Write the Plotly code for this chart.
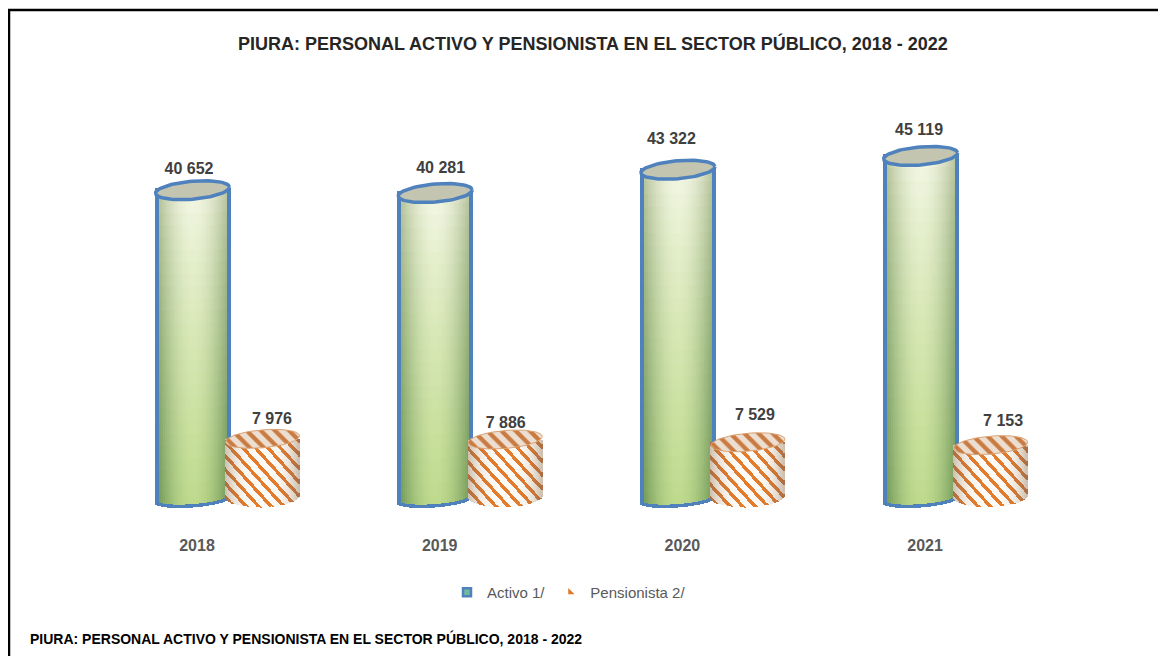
import math
import plotly.graph_objects as go

YEARS = ["2018", "2019", "2020", "2021"]
ACTIVO = [40652, 40281, 43322, 45119]
PENSIONISTA = [7976, 7886, 7529, 7153]
SERIES_NAMES = ["Activo 1/", "Pensionista 2/"]
TITLE = "PIURA: PERSONAL ACTIVO Y PENSIONISTA EN EL SECTOR PÚBLICO, 2018 - 2022"
FOOTER = "PIURA: PERSONAL ACTIVO Y PENSIONISTA EN EL SECTOR PÚBLICO, 2018 - 2022"

PAGE_W, PAGE_H = 1166, 656
BODY = 8
W, H = PAGE_W - BODY, PAGE_H - BODY
PX_PER_UNIT = 0.00767
Y0_PX = 500
AXIS_PX = 530
TICK_X = [197 + 242.7 * i for i in range(4)]
ACT_X = [192.5 + 242.7 * i for i in range(4)]
PEN_X = [262.5 + 242.7 * i for i in range(4)]
BLUE = "#4f81bd"
ORANGE = "#e0782a"
FONT = "Liberation Sans, Arial, sans-serif"


def px(n):
    return n / PX_PER_UNIT


def lerp(a, b, t):
    return a + (b - a) * t


def mix(c1, c2, t):
    return tuple(lerp(a, b, t) for a, b in zip(c1, c2))


def rgb(c):
    return "rgb(%d,%d,%d)" % tuple(round(v) for v in c)


def ppx(x):
    return (x - BODY) / W


def ppy(y):
    return (AXIS_PX - y) / (AXIS_PX - BODY)


def ellipse(cx, val, hw, hh, tilt, n=72):
    xs, ys = [], []
    for i in range(n + 1):
        a = 2 * math.pi * i / n
        u = math.cos(a)
        xs.append(cx + hw * u)
        ys.append(val + px(hh * math.sin(a) + tilt * u))
    return xs, ys


fig = go.Figure()
STRIP = 2
HW_A, HW_P = 38, 37

for cx, val in zip(ACT_X, ACTIVO):
    xs, bases, heights, colors = [], [], [], []
    n = int(2 * HW_A / STRIP)
    rows = 26
    for k in range(n):
        x = cx - HW_A + STRIP * (k + 0.5)
        u = (x - cx) / HW_A
        circ = math.sqrt(max(0, 1 - u * u))
        bottom = -px(7.5 * circ - 3 * u)
        top = val
        edge = abs(u) ** 1.9
        is_edge = k < 2 or k >= n - 2
        for r in range(rows):
            t0, t1 = r / rows, (r + 1) / rows
            b = lerp(bottom, top, t0)
            h = (top - bottom) / rows
            xs.append(x)
            bases.append(b)
            heights.append(h)
            tt = 1 - (t0 + t1) / 2
            centre = mix((246, 248, 232), (190, 218, 140), tt ** 0.8)
            side = mix((176, 188, 146), (98, 140, 78), tt ** 0.7)
            c = mix(centre, side, edge)
            colors.append(BLUE if is_edge else rgb(c))
        xs.append(x)
        bases.append(bottom)
        heights.append(px(3.5))
        colors.append(BLUE)
    fig.add_trace(go.Bar(x=xs, y=heights, base=bases, width=STRIP,
                         marker=dict(color=colors, line=dict(width=0)),
                         showlegend=False, hoverinfo="skip"))

# Pensionista bodies: one-pixel columns, each with a pale base and orange diagonal stripe runs.
STRIPE_PERIOD = 12.5
STRIPE_THICK = 4.6
STRIPE_SLOPE = 1.1
for cx, val in zip(PEN_X, PENSIONISTA):
    xs, bases, heights, colors = [], [], [], []
    n = int(2 * HW_P)
    for k in range(n):
        x = cx - HW_P + k + 0.5
        u = (x - cx) / HW_P
        circ = math.sqrt(max(0, 1 - u * u))
        bottom = px(4) - px(11 * circ - 1 * u)
        shade = abs(u) ** 3
        xs.append(x)
        bases.append(bottom)
        heights.append(val - bottom)
        colors.append(rgb(mix((253, 251, 247), (205, 190, 172), shade)))
        stripe = rgb(mix((228, 124, 44), (170, 110, 70), shade))
        # distance below the top of the column, measured in pixels
        col_h = (val - bottom) * PX_PER_UNIT
        phase = (x % STRIPE_PERIOD) * STRIPE_SLOPE
        period_y = STRIPE_PERIOD * STRIPE_SLOPE
        thick_y = STRIPE_THICK * STRIPE_SLOPE
        y_px = -period_y
        while y_px < col_h + period_y:
            a = y_px + phase
            b = a + thick_y
            a2, b2 = max(a, 0), min(b, col_h)
            if b2 > a2:
                xs.append(x)
                bases.append(val - px(b2))
                heights.append(px(b2 - a2))
                colors.append(stripe)
            y_px += period_y
    fig.add_trace(go.Bar(x=xs, y=heights, base=bases, width=1,
                         marker=dict(color=colors, line=dict(width=0)),
                         showlegend=False, hoverinfo="skip"))

for cx, val in zip(ACT_X, ACTIVO):
    ex, ey = ellipse(cx, val - px(2), HW_A - 1, 9, 3)
    fig.add_trace(go.Scatter(x=ex, y=ey, mode="lines", fill="toself",
                             fillcolor="#c3c5b0", line=dict(color=BLUE, width=3.5),
                             showlegend=False, hoverinfo="skip"))

for cx, val in zip(PEN_X, PENSIONISTA):
    ex, ey = ellipse(cx, val, HW_P, 9, 3)
    fig.add_trace(go.Scatter(x=ex, y=ey, mode="lines", fill="toself",
                             fillcolor="#e8dccf", line=dict(color="#dba273", width=1),
                             fillpattern=dict(shape="\\", fgcolor="#c8763a", fgopacity=0.95,
                                              bgcolor="#ecdfd2", size=10, solidity=0.42),
                             showlegend=False, hoverinfo="skip"))

LBL_A_DX = [-3.5, 5.5, -6.5, -1.5]
LBL_A_DY = [18, 22, 28, 23]
LBL_P_DX = [9.5, 0.5, 7, 12.5]
LBL_P_DY = [19, 16, 26, 23]
LABEL_FONT = dict(family=FONT, size=16, color="#404040", weight="bold")
fig.add_trace(go.Scatter(
    x=[c + d for c, d in zip(ACT_X, LBL_A_DX)],
    y=[v + px(d) for v, d in zip(ACTIVO, LBL_A_DY)],
    text=[f"{v // 1000} {v % 1000:03d}" for v in ACTIVO],
    mode="text", textfont=LABEL_FONT, showlegend=False, hoverinfo="skip"))
fig.add_trace(go.Scatter(
    x=[c + d for c, d in zip(PEN_X, LBL_P_DX)],
    y=[v + px(d) for v, d in zip(PENSIONISTA, LBL_P_DY)],
    text=[f"{v // 1000} {v % 1000:03d}" for v in PENSIONISTA],
    mode="text", textfont=LABEL_FONT, showlegend=False, hoverinfo="skip"))

fig.add_trace(go.Scatter(x=[None], y=[None], mode="markers", name=SERIES_NAMES[0],
                         marker=dict(symbol="square", size=8, color="#6fb7a0",
                                     line=dict(color=BLUE, width=2.5))))
fig.add_trace(go.Scatter(x=[None], y=[None], mode="markers", name=SERIES_NAMES[1],
                         marker=dict(symbol="triangle-sw", size=7, color=ORANGE)))

fig.update_layout(
    width=W, height=H, autosize=False,
    paper_bgcolor="white", plot_bgcolor="white",
    margin=dict(l=0, r=0, t=0, b=PAGE_H - AXIS_PX, pad=0),
    barmode="overlay", bargap=0,
    font=dict(family=FONT),
    xaxis=dict(range=[BODY, PAGE_W], tickmode="array", tickvals=TICK_X, ticktext=YEARS,
               showgrid=False, zeroline=False, showline=False, ticks="", ticklabelstandoff=4,
               tickfont=dict(family=FONT, size=16, color="#595959", weight="bold")),
    yaxis=dict(range=[px(Y0_PX - AXIS_PX), px(Y0_PX - BODY)], visible=False),
    showlegend=True,
    legend=dict(orientation="h", x=ppx(447), y=ppy(576), xanchor="left", yanchor="top",
                font=dict(family=FONT, size=15, color="#595959"),
                bgcolor="rgba(0,0,0,0)", itemwidth=30),
    shapes=[dict(type="path", xref="paper", yref="paper",
                 path=f"M {ppx(9)} {ppy(PAGE_H + 4)} L {ppx(9)} {ppy(10)} L {ppx(PAGE_W + 4)} {ppy(10)}",
                 line=dict(color="black", width=2.5), layer="above")],
    annotations=[
        dict(text=TITLE, xref="paper", yref="paper", x=ppx(592.5), y=ppy(43), showarrow=False,
             xanchor="center", yanchor="middle",
             font=dict(family=FONT, size=18, color="#262626", weight="bold")),
        dict(text=FOOTER, xref="paper", yref="paper", x=ppx(28), y=ppy(638), showarrow=False,
             xanchor="left", yanchor="middle",
             font=dict(family=FONT, size=14, color="black", weight="bold")),
    ],
)
fig.write_html("out.html")
